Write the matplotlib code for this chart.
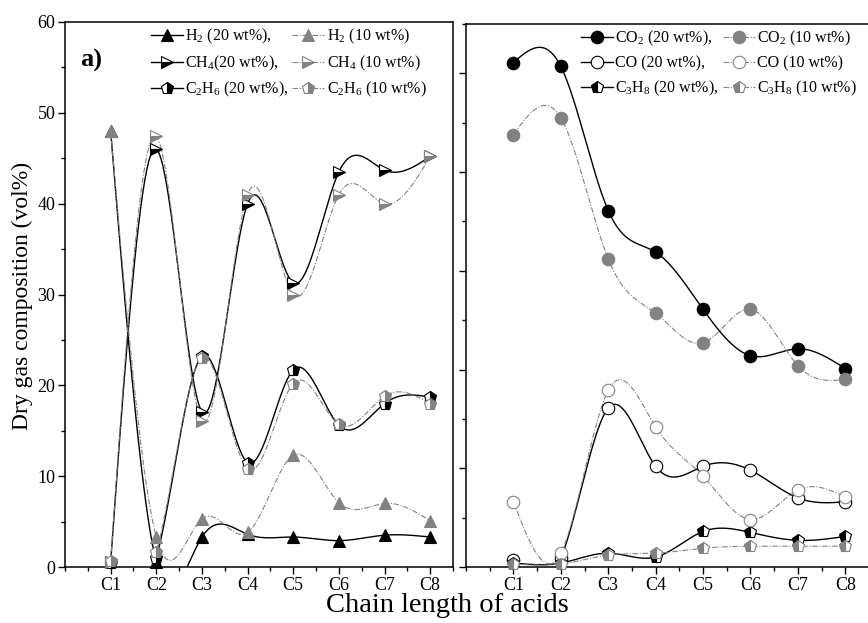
"""
Dry gas composition vs chain length of acids (two panels)
"""
import numpy as np
import matplotlib
matplotlib.use("Agg")
from matplotlib import pyplot as plt
from matplotlib.ticker import MultipleLocator

plt.rcParams['font.family'] = ['Liberation Serif', 'DejaVu Serif']
plt.rcParams['mathtext.fontset'] = 'custom'
plt.rcParams['mathtext.rm'] = 'Liberation Serif'
plt.rcParams['mathtext.it'] = 'Liberation Serif:italic'

ACIDS = ["C1", "C2", "C3", "C4", "C5", "C6", "C7", "C8"]

# left panel (vol%)
h2_20 = [48.0, 0.5, 3.3, 3.6, 3.3, 2.9, 3.5, 3.3]
h2_10 = [48.0, 3.3, 5.3, 3.8, 12.3, 7.1, 7.0, 5.1]
ch4_20 = [0.5, 46.0, 17.1, 40.0, 31.3, 43.5, 43.7, 45.2]
ch4_10 = [0.6, 47.4, 16.1, 41.0, 30.0, 41.0, 40.0, 45.2]
c2h6_20 = [0.4, 1.0, 23.2, 11.5, 21.7, 15.6, 18.0, 18.7]
c2h6_10 = [0.7, 1.7, 23.0, 10.8, 20.2, 15.7, 18.8, 18.0]

# right panel (vol%)
co2_20 = [51.1, 50.7, 36.1, 31.9, 26.1, 21.4, 22.1, 20.1]
co2_10 = [43.8, 45.5, 31.2, 25.7, 22.7, 26.1, 20.4, 19.0]
co_20 = [0.7, 0.9, 16.1, 10.2, 10.2, 9.8, 7.0, 6.6]
co_10 = [6.6, 1.4, 17.9, 14.2, 9.2, 4.8, 7.8, 7.1]
c3h8_20 = [0.4, 0.4, 1.4, 1.0, 3.6, 3.5, 2.7, 3.1]
c3h8_10 = [0.3, 0.3, 1.2, 1.4, 1.9, 2.1, 2.1, 2.1]

GRAY = '#828282'
DASH = (0, (5, 1.5, 1, 1.5))


def natural_spline(x, y, n=300):
    """Smooth connecting line through the points (natural cubic spline)"""
    x = np.asarray(x, float)
    y = np.asarray(y, float)
    k = len(x)
    h = np.diff(x)
    A = np.zeros((k, k))
    b = np.zeros(k)
    A[0, 0] = A[-1, -1] = 1
    for i in range(1, k - 1):
        A[i, i - 1] = h[i - 1]
        A[i, i] = 2 * (h[i - 1] + h[i])
        A[i, i + 1] = h[i]
        b[i] = 6 * ((y[i + 1] - y[i]) / h[i] - (y[i] - y[i - 1]) / h[i - 1])
    M = np.linalg.solve(A, b)
    xs = np.linspace(x[0], x[-1], n)
    idx = np.clip(np.searchsorted(x, xs) - 1, 0, k - 2)
    x0, x1, hh = x[idx], x[idx + 1], h[idx]
    ys = (M[idx] * (x1 - xs) ** 3 / (6 * hh) + M[idx + 1] * (xs - x0) ** 3 / (6 * hh)
          + (y[idx] / hh - M[idx] * hh / 6) * (x1 - xs)
          + (y[idx + 1] / hh - M[idx + 1] * hh / 6) * (xs - x0))
    return xs, ys


def series(ax, y, label, marker, strong, fill='full', face=None, alt='white'):
    x = np.arange(1, len(y) + 1)
    xs, ys = natural_spline(x, y)
    col = 'black' if strong else GRAY
    ls = '-' if strong else DASH
    lw = 1.0 if strong else 0.8
    if face is None:
        face = col
    ax.plot(xs, ys, color=col, lw=lw, ls=ls, zorder=2)
    ax.plot(x, y, ls='none', marker=marker, ms=9, mfc=face, mec=col, mew=0.8,
            fillstyle=fill, markerfacecoloralt=alt, zorder=3, clip_on=False)
    # proxy for the legend: line + marker
    h, = ax.plot([], [], color=col, lw=lw, ls=ls, marker=marker, ms=9, mfc=face,
                 mec=col, mew=0.8, fillstyle=fill, markerfacecoloralt=alt, label=label)
    return h


def style_axis(ax, ymax, labels=True):
    ax.set_xlim(0, 8.5)
    ax.set_ylim(0, ymax)
    ax.set_xticks(range(1, 9))
    ax.set_xticklabels(ACIDS)
    ax.xaxis.set_minor_locator(MultipleLocator(0.5))
    ax.yaxis.set_major_locator(MultipleLocator(10))
    ax.yaxis.set_minor_locator(MultipleLocator(5))
    ax.tick_params(which='major', direction='out', length=5, width=1, labelsize=13, pad=2)
    ax.tick_params(which='minor', direction='out', length=3, width=1)
    if not labels:
        ax.tick_params(axis='y', labelleft=False)
    for s in ax.spines.values():
        s.set_linewidth(1.1)


def add_legend(ax, handles, x0):
    ax.legend(handles=handles, ncol=2, frameon=False, fontsize=11.5, loc='upper left',
              bbox_to_anchor=(x0, 1.005), handlelength=2.0, handletextpad=0.15,
              columnspacing=0.25, labelspacing=0.45, borderaxespad=0.2, borderpad=0.3)


fig = plt.figure(figsize=(8.68, 6.23), dpi=100)
W, H = 868.0, 623.0
ax1 = fig.add_axes([65 / W, 56 / H, 388 / W, 545 / H])
ax2 = fig.add_axes([466 / W, 56 / H, 403 / W, 543 / H])
style_axis(ax1, 60)
style_axis(ax2, 55, labels=False)

# left panel
hl = []
hl.append(series(ax1, h2_20, 'H$_2$ (20 wt%),', '^', True))
hl.append(series(ax1, ch4_20, 'CH$_4$(20 wt%),', '>', True, fill='bottom'))
hl.append(series(ax1, c2h6_20, 'C$_2$H$_6$ (20 wt%),', 'p', True, fill='right'))
hl.append(series(ax1, h2_10, 'H$_2$ (10 wt%)', '^', False))
hl.append(series(ax1, ch4_10, 'CH$_4$ (10 wt%)', '>', False, fill='bottom'))
hl.append(series(ax1, c2h6_10, 'C$_2$H$_6$ (10 wt%)', 'p', False, fill='right'))
add_legend(ax1, hl, 0.2)
ax1.text(0.04, 0.93, 'a)', transform=ax1.transAxes, fontsize=19, fontweight='bold',
         va='center', ha='left')

# right panel
hr = []
hr.append(series(ax2, co2_20, 'CO$_2$ (20 wt%),', 'o', True))
hr.append(series(ax2, co_20, 'CO (20 wt%),', 'o', True, face='white'))
hr.append(series(ax2, c3h8_20, 'C$_3$H$_8$ (20 wt%),', 'p', True, fill='left'))
hr.append(series(ax2, co2_10, 'CO$_2$ (10 wt%)', 'o', False))
hr.append(series(ax2, co_10, 'CO (10 wt%)', 'o', False, face='white'))
hr.append(series(ax2, c3h8_10, 'C$_3$H$_8$ (10 wt%)', 'p', False, fill='left'))
add_legend(ax2, hr, 0.265)

fig.text(22 / W, 1 - 296 / H, 'Dry gas composition (vol%)', fontsize=17, rotation=90,
         ha='center', va='center')
fig.text(447 / W, 1 - 606 / H, 'Chain length of acids', fontsize=20.5, ha='center',
         va='center')

plt.savefig('out.png', dpi=100)
